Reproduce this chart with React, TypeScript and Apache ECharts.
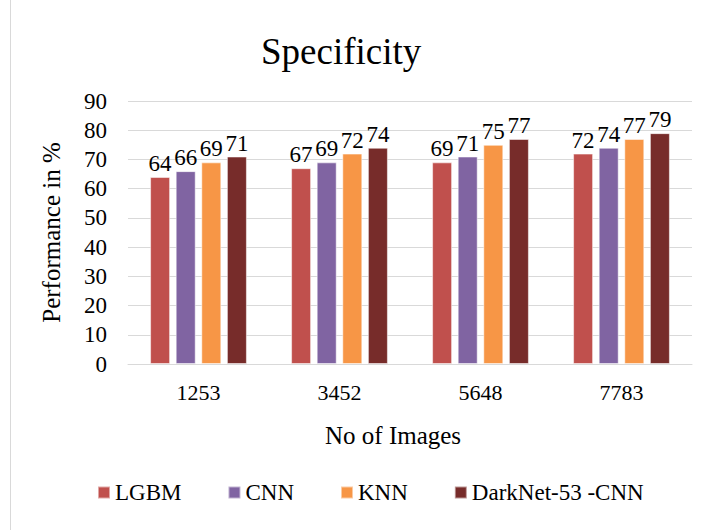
import React, { useEffect, useRef } from "react";
import * as echarts from "echarts";

const categories = ["1253", "3452", "5648", "7783"];
const lgbm = [64, 67, 69, 72];
const cnn = [66, 69, 71, 74];
const knn = [69, 72, 75, 77];
const darknet = [71, 74, 77, 79];
const seriesNames = ["LGBM", "CNN", "KNN", "DarkNet-53 -CNN"];
const colors = ["#C0504D", "#8064A2", "#F79646", "#772C2A"];

const FONT = "Liberation Serif";

export default function App() {
  const ref = useRef<HTMLDivElement>(null);
  useEffect(() => {
    if (!ref.current) return;
    const chart = echarts.init(ref.current, undefined, { renderer: "svg" });
    const data = [lgbm, cnn, knn, darknet];
    chart.setOption({
      animation: false,
      backgroundColor: "#ffffff",
      textStyle: { fontFamily: FONT, color: "#000" },
      title: {
        text: "Specificity",
        left: 256,
        top: 28,
        textStyle: { fontFamily: FONT, fontSize: 37, fontWeight: "normal", color: "#000" },
      },
      legend: {
        top: 476,
        left: 92,
        itemWidth: 12,
        itemHeight: 12,
        itemGap: 46,
        icon: "rect",
        textStyle: { fontFamily: FONT, fontSize: 23, color: "#000" },
        data: seriesNames,
      },
      grid: { left: 128, right: 17, top: 101, bottom: 166 },
      xAxis: {
        type: "category",
        data: categories,
        axisLine: { lineStyle: { color: "#d9d9d9", width: 1 } },
        axisTick: { show: false },
        axisLabel: { fontFamily: FONT, fontSize: 22, color: "#000", margin: 17 },
      },
      yAxis: {
        type: "value",
        min: 0,
        max: 90,
        interval: 10,
        name: "Performance in %",
        nameLocation: "middle",
        nameRotate: 90,
        nameGap: 64,
        nameTextStyle: { fontFamily: FONT, fontSize: 25, color: "#000" },
        axisLine: { show: false },
        axisTick: { show: false },
        axisLabel: { fontFamily: FONT, fontSize: 23, color: "#000", margin: 21 },
        splitLine: { lineStyle: { color: "#d9d9d9", width: 1 } },
      },
      graphic: [
        {
          type: "text",
          left: 325,
          top: 423,
          style: { text: "No of Images", fontFamily: FONT, fontSize: 25, fill: "#000" },
        },
        {
          type: "line",
          shape: { x1: 10.5, y1: 0, x2: 10.5, y2: 530 },
          style: { stroke: "#d9d9d9", lineWidth: 1 },
        },
      ],
      series: seriesNames.map((name, i) => ({
        name,
        type: "bar",
        data: data[i],
        barWidth: 20,
        barGap: "28%",
        itemStyle: { color: colors[i], borderColor: "rgba(255,255,255,0.5)", borderWidth: 1 },
        label: {
          show: true,
          position: "top",
          distance: 2,
          fontFamily: FONT,
          fontSize: 23,
          color: "#000",
        },
      })),
    });
    return () => chart.dispose();
  }, []);
  return (
    <div
      ref={ref}
      style={{ position: "fixed", left: 0, top: 0, width: 709, height: 530 }}
    />
  );
}
